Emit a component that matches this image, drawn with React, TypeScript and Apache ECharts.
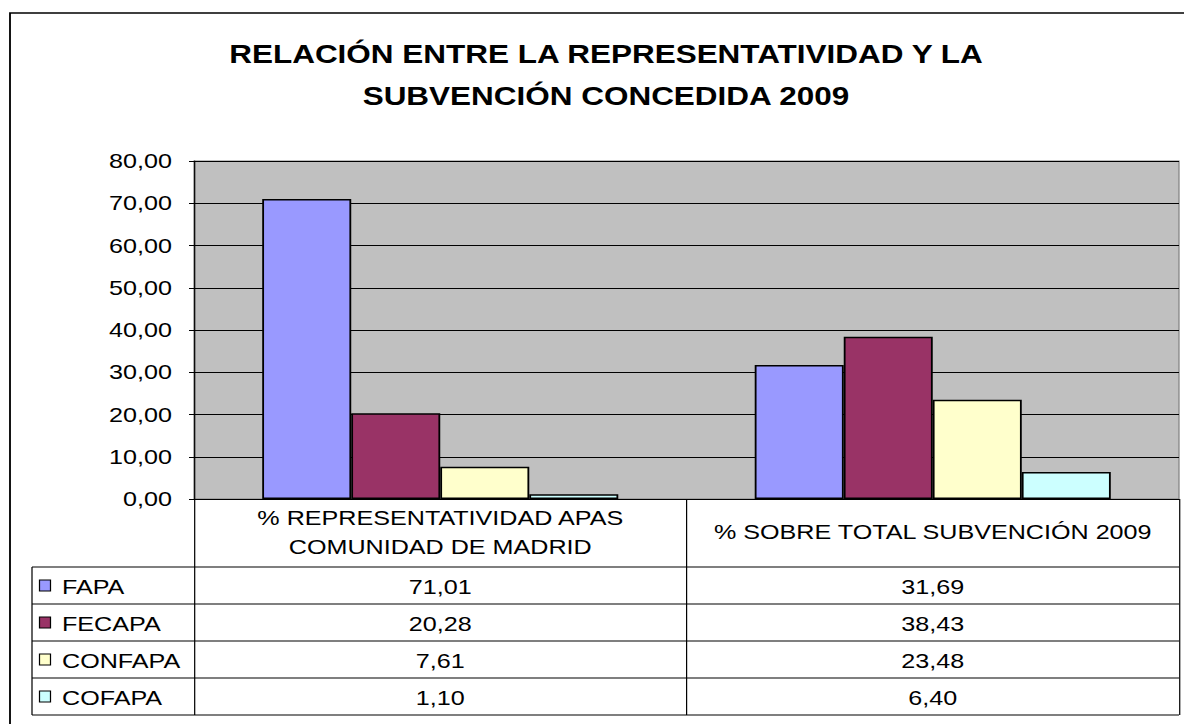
import React, { useEffect, useRef } from "react";
import * as echarts from "echarts";

// ---- data ----
const categories = ["% REPRESENTATIVIDAD APAS\nCOMUNIDAD DE MADRID", "% SOBRE TOTAL SUBVENCIÓN 2009"];
const seriesNames = ["FAPA", "FECAPA", "CONFAPA", "COFAPA"];
const fapa = [71.01, 31.69];
const fecapa = [20.28, 38.43];
const confapa = [7.61, 23.48];
const cofapa = [1.1, 6.4];
const seriesValues = [fapa, fecapa, confapa, cofapa];
const seriesColors = ["#9999FF", "#993366", "#FFFFCC", "#CCFFFF"];
const yMin = 0;
const yMax = 80;
const yInterval = 10;
const titleText = "RELACIÓN ENTRE LA REPRESENTATIVIDAD Y LA\nSUBVENCIÓN CONCEDIDA 2009";

// ---- layout (the Excel original is horizontally stretched) ----
const INNER_W = 970;
const H = 724;
const S = 1184 / INNER_W;
const ix = (x: number) => x / S;
const FONT = "'Liberation Sans', Arial, sans-serif";
const FS = 20.6;

const fmt = (v: number) => v.toFixed(2).replace(".", ",");

export default function App() {
  const ref = useRef<HTMLDivElement>(null);

  useEffect(() => {
    if (!ref.current) return;
    const chart = echarts.init(ref.current, null, { renderer: "svg" });
    const plotLeft = 194;
    const plotRight = 1179;
    const plotTop = 161;
    const plotBottom = 499;
    const tableTop = 567;
    const rowH = 37;
    const tableBottom = tableTop + rowH * 4;

    chart.setOption({
      animation: false,
      backgroundColor: "#ffffff",
      textStyle: { fontFamily: FONT },
      grid: {
        left: ix(plotLeft),
        right: INNER_W - ix(plotRight),
        top: plotTop,
        bottom: H - plotBottom,
        show: true,
        backgroundColor: "#C0C0C0",
        borderColor: "#808080",
        borderWidth: 1,
      },
      xAxis: {
        type: "category",
        data: categories,
        axisLine: { show: true, lineStyle: { color: "#000", width: 1 } },
        axisTick: {
          show: true,
          alignWithLabel: false,
          length: tableBottom - plotBottom,
          lineStyle: { color: "#000", width: 1 },
        },
        axisLabel: {
          interval: 0,
          hideOverlap: false,
          margin: 33,
          verticalAlign: "middle",
          color: "#000",
          fontSize: FS,
          fontFamily: FONT,
          lineHeight: 29,
          align: "center",
        },
        splitLine: { show: false },
      },
      yAxis: {
        type: "value",
        min: yMin,
        max: yMax,
        interval: yInterval,
        axisLine: { show: true, lineStyle: { color: "#000", width: 1 } },
        axisTick: { show: true, length: ix(5), lineStyle: { color: "#000", width: 1 } },
        axisLabel: {
          color: "#000",
          fontSize: FS,
          fontFamily: FONT,
          margin: ix(22),
          formatter: (v: number) => fmt(v),
        },
        splitLine: { show: true, lineStyle: { color: "#000", width: 1 } },
      },
      series: seriesNames.map((name, i) => ({
        name,
        type: "bar",
        data: seriesValues[i],
        barGap: "0%",
        barCategoryGap: "27.7%",
        itemStyle: { color: seriesColors[i], borderColor: "#000", borderWidth: 1.5 },
      })),
    });

    const colX = categories.map((_, i) => chart.convertToPixel({ xAxisIndex: 0 }, i) as number);

    const graphics: any[] = [];
    graphics.push({
      type: "rect",
      silent: true,
      z: 100,
      shape: { x: ix(10), y: 13, width: 2000, height: 2000 },
      style: { fill: "none", stroke: "#000", lineWidth: 1.5 },
    });
    graphics.push({
      type: "text",
      x: ix(606),
      y: 75,
      style: {
        text: titleText,
        fontSize: 25.8,
        fontWeight: "bold",
        fontFamily: FONT,
        fill: "#000",
        align: "center",
        verticalAlign: "middle",
        lineHeight: 42,
      },
    });
    // table horizontal lines
    for (let r = 0; r <= 4; r++) {
      const y = tableTop + r * rowH;
      graphics.push({
        type: "line",
        silent: true,
        shape: { x1: ix(32), y1: y, x2: ix(plotRight), y2: y },
        style: { stroke: "#000", lineWidth: 1 },
      });
    }
    graphics.push({
      type: "line",
      silent: true,
      shape: { x1: ix(32), y1: tableTop, x2: ix(32), y2: tableBottom },
      style: { stroke: "#000", lineWidth: 1 },
    });
    seriesNames.forEach((name, i) => {
      const cy = tableTop + rowH * i + rowH / 2;
      graphics.push({
        type: "rect",
        shape: { x: ix(39.5), y: cy - 5.5, width: ix(11), height: 11 },
        style: { fill: seriesColors[i], stroke: "#000", lineWidth: 1 },
      });
      graphics.push({
        type: "text",
        x: ix(62),
        y: cy + 1,
        style: {
          text: name,
          fontSize: FS,
          fontFamily: FONT,
          fill: "#000",
          align: "left",
          verticalAlign: "middle",
        },
      });
      seriesValues[i].forEach((v, c) => {
        graphics.push({
          type: "text",
          x: colX[c],
          y: cy + 1,
          style: {
            text: fmt(v),
            fontSize: FS,
            fontFamily: FONT,
            fill: "#000",
            align: "center",
            verticalAlign: "middle",
          },
        });
      });
    });

    chart.setOption({ graphic: graphics });
    return () => chart.dispose();
  }, []);

  return (
    <div style={{ position: "fixed", left: 0, top: 0, width: 1184, height: H, overflow: "hidden", background: "#fff" }}>
      <div
        ref={ref}
        style={{
          position: "absolute",
          left: 0,
          top: 0,
          width: INNER_W,
          height: H,
          transform: `scaleX(${S})`,
          transformOrigin: "0 0",
        }}
      />
    </div>
  );
}
